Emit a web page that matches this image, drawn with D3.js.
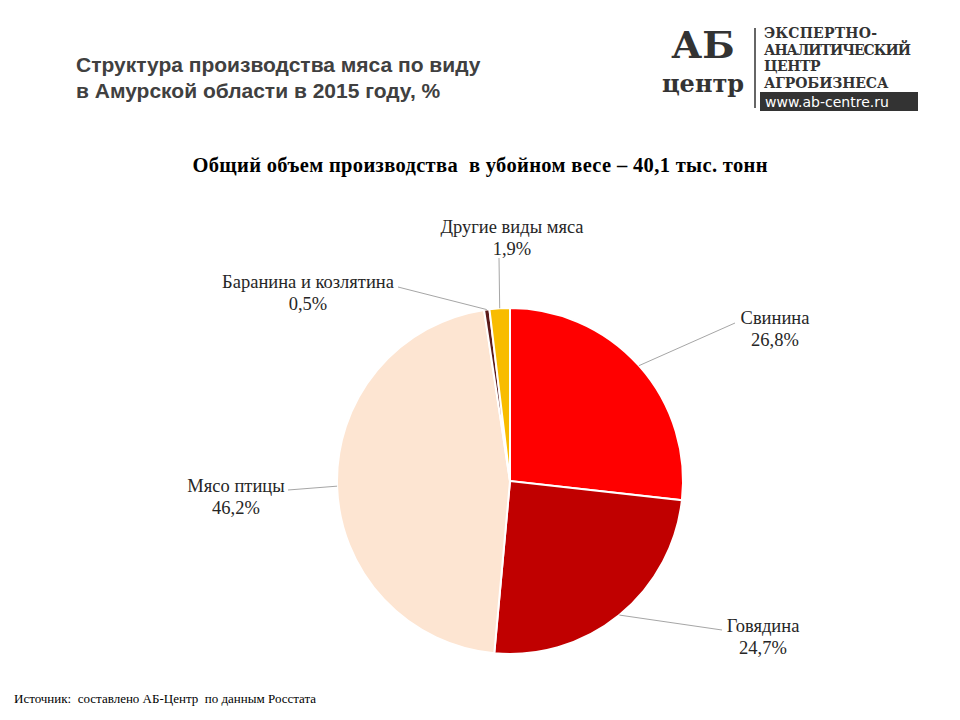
<!DOCTYPE html>
<html>
<head>
<meta charset="utf-8">
<script src="https://cdn.jsdelivr.net/npm/d3@7"></script>
<style>
  body { margin: 0; background: #fff; }
  svg { display: block; }
  text { white-space: pre; }
</style>
</head>
<body>
<script>
var categories = ["Свинина", "Говядина", "Мясо птицы", "Баранина и козлятина", "Другие виды мяса"];
var values = [26.8, 24.7, 46.2, 0.5, 1.9];
var colors = ["#ff0000", "#c00000", "#fde5d2", "#5c1a1a", "#f8bc00"];

// label layout: text centre x, first line baseline y, leader end point
var labelPos = [
  { x: 775, y: 324, lx: 735, ly: 323 },
  { x: 763, y: 632, lx: 722, ly: 630 },
  { x: 236, y: 492, lx: 288, ly: 490 },
  { x: 308, y: 288, lx: 398, ly: 287 },
  { x: 512, y: 233, lx: 499, ly: 258 }
];

var width = 960, height = 720;
var cx = 510, cy = 481, radius = 173;

var svg = d3.select("body").append("svg")
  .attr("width", width)
  .attr("height", height);

// header
svg.append("text")
  .attr("x", 76).attr("y", 72)
  .attr("font-family", "Arial, 'Liberation Sans', sans-serif")
  .attr("font-size", "21px").attr("font-weight", "bold").attr("fill", "#404040")
  .text("Структура производства мяса по виду");
svg.append("text")
  .attr("x", 76).attr("y", 98)
  .attr("font-family", "Arial, 'Liberation Sans', sans-serif")
  .attr("font-size", "21px").attr("font-weight", "bold").attr("fill", "#404040")
  .text("в Амурской области в 2015 году, %");

// logo
var logo = svg.append("g").attr("font-family", "'DejaVu Serif', serif");
logo.append("text").attr("x", 703).attr("y", 58).attr("text-anchor", "middle")
  .attr("font-size", "38px").attr("font-weight", "bold").attr("fill", "#333").text("АБ");
logo.append("text").attr("x", 703).attr("y", 92).attr("text-anchor", "middle")
  .attr("font-size", "24px").attr("font-weight", "bold").attr("fill", "#333").text("центр");
logo.append("line").attr("x1", 755).attr("x2", 755).attr("y1", 28).attr("y2", 108)
  .attr("stroke", "#333").attr("stroke-width", 1.5);
["ЭКСПЕРТНО-", "АНАЛИТИЧЕСКИЙ", "ЦЕНТР", "АГРОБИЗНЕСА"].forEach(function(t, i) {
  logo.append("text").attr("x", 764).attr("y", 38 + i * 16.5)
    .attr("font-size", "14px").attr("font-weight", "bold").attr("fill", "#333")
    .attr("textLength", t.length * 11.3).text(t);
});
logo.append("rect").attr("x", 760).attr("y", 92).attr("width", 158).attr("height", 19).attr("fill", "#333");
logo.append("text").attr("x", 765).attr("y", 107)
  .attr("font-family", "'DejaVu Sans', sans-serif")
  .attr("font-size", "14px").attr("fill", "#fff").text("www.ab-centre.ru");

// subtitle
svg.append("text")
  .attr("x", 480).attr("y", 172).attr("text-anchor", "middle")
  .attr("font-family", "'Times New Roman', 'Liberation Serif', serif")
  .attr("font-size", "20.5px").attr("font-weight", "bold").attr("fill", "#000")
  .attr("textLength", 575)
  .text("Общий объем производства  в убойном весе – 40,1 тыс. тонн");

// pie
var pie = d3.pie().sort(null).value(function(d) { return d; });
var arc = d3.arc().innerRadius(0).outerRadius(radius);
var outer = d3.arc().innerRadius(radius).outerRadius(radius);
var arcs = pie(values);

var g = svg.append("g").attr("transform", "translate(" + cx + "," + cy + ")");
g.selectAll("path")
  .data(arcs)
  .enter()
  .append("path")
  .attr("d", arc)
  .attr("fill", function(d, i) { return colors[i]; })
  .attr("stroke", "#fff")
  .attr("stroke-width", 2);

// leader lines
svg.selectAll("line.leader")
  .data(arcs)
  .enter()
  .append("line")
  .attr("class", "leader")
  .attr("x1", function(d) { return cx + outer.centroid(d)[0]; })
  .attr("y1", function(d) { return cy + outer.centroid(d)[1]; })
  .attr("x2", function(d, i) { return labelPos[i].lx; })
  .attr("y2", function(d, i) { return labelPos[i].ly; })
  .attr("stroke", "#a6a6a6")
  .attr("stroke-width", 1);

// labels
var labels = svg.selectAll("g.label")
  .data(arcs)
  .enter()
  .append("g")
  .attr("class", "label")
  .attr("font-family", "'Times New Roman', 'Liberation Serif', serif")
  .attr("font-size", "18.5px")
  .attr("fill", "#262626")
  .attr("text-anchor", "middle");
labels.append("text")
  .attr("x", function(d, i) { return labelPos[i].x; })
  .attr("y", function(d, i) { return labelPos[i].y; })
  .text(function(d, i) { return categories[i]; });
labels.append("text")
  .attr("x", function(d, i) { return labelPos[i].x; })
  .attr("y", function(d, i) { return labelPos[i].y + 22; })
  .text(function(d, i) { return String(values[i]).replace(".", ",") + "%"; });

// source
svg.append("text")
  .attr("x", 14).attr("y", 703)
  .attr("font-family", "'Times New Roman', 'Liberation Serif', serif")
  .attr("font-size", "13px").attr("fill", "#000")
  .text("Источник:  составлено АБ-Центр  по данным Росстата");
</script>
</body>
</html>
